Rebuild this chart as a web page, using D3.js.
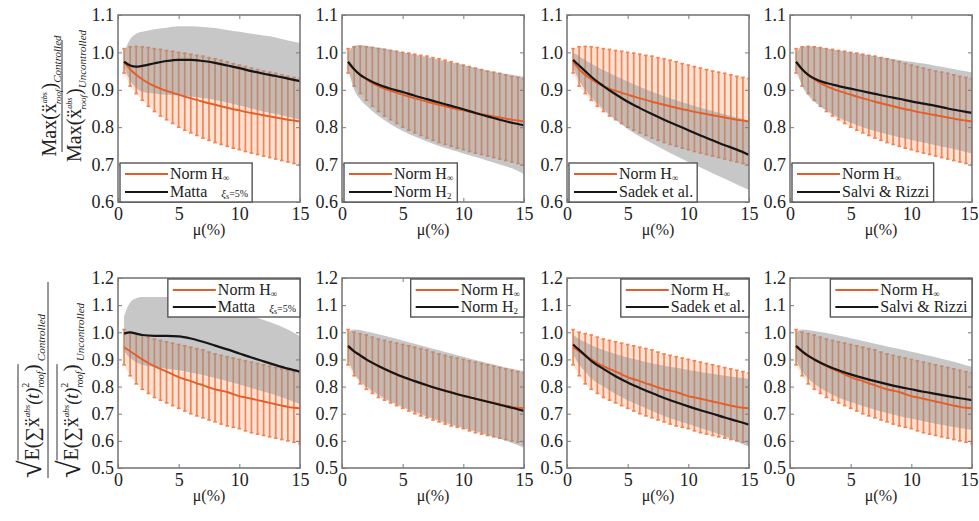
<!DOCTYPE html>
<html>
<head>
<meta charset="utf-8">
<script src="https://cdn.jsdelivr.net/npm/d3@7"></script>
<style>
  body { margin: 0; background: #fff; }
  svg text { font-family: "Liberation Serif", "Times New Roman", "DejaVu Serif", serif; fill: #222; }
</style>
</head>
<body>
<svg id="chart" width="979" height="521"></svg>
<script>
// x positions (mu, %) of the error bars and of the curves
const muBar = [0.5,1,1.5,2,2.5,3,3.5,4,4.5,5,5.5,6,6.5,7,7.5,8,8.5,9,9.5,10,10.5,11,11.5,12,12.5,13,13.5,14,14.5,15];
const muCurve = [0.5,1,1.5,2,3,4,5,6,7,8,9,10,11,12,13,14,15];
const xTicks = [0, 5, 10, 15];
const yTicksTop = [0.6, 0.7, 0.8, 0.9, 1.0, 1.1];
const yTicksBottom = [0.5, 0.6, 0.7, 0.8, 0.9, 1.0, 1.1, 1.2];
const legendNames = ["Matta", "Norm H2", "Sadek et al.", "Salvi & Rizzi"];

// Norm H-inf (same in every panel of a row): mean, bar top, bar bottom
const hinfMeanTop = [0.975,0.955,0.94,0.928,0.918,0.91,0.903,0.897,0.892,0.887,0.882,0.877,0.873,0.868,0.864,0.86,0.856,0.852,0.848,0.845,0.841,0.838,0.835,0.832,0.829,0.826,0.823,0.82,0.818,0.815];
const hinfHighTop = [1.01,1.015,1.016,1.015,1.013,1.01,1.008,1.005,1.003,1.0,0.998,0.995,0.992,0.99,0.986,0.983,0.979,0.975,0.97,0.966,0.962,0.958,0.954,0.95,0.947,0.944,0.94,0.936,0.933,0.93];
const hinfLowTop = [0.945,0.91,0.89,0.872,0.856,0.842,0.83,0.82,0.81,0.8,0.792,0.785,0.778,0.771,0.765,0.759,0.754,0.749,0.744,0.74,0.735,0.731,0.727,0.723,0.719,0.715,0.711,0.707,0.703,0.7];
const hinfMeanBottom = [0.945,0.93,0.915,0.9,0.887,0.875,0.865,0.855,0.845,0.835,0.827,0.82,0.812,0.805,0.797,0.79,0.785,0.78,0.772,0.765,0.76,0.755,0.75,0.745,0.74,0.735,0.73,0.725,0.722,0.72];
const hinfHighBottom = [1.01,1.0,0.995,0.99,0.982,0.975,0.97,0.965,0.96,0.955,0.95,0.945,0.94,0.935,0.927,0.92,0.915,0.91,0.905,0.9,0.895,0.89,0.885,0.88,0.875,0.87,0.865,0.86,0.855,0.85];
const hinfLowBottom = [0.88,0.84,0.81,0.79,0.775,0.76,0.75,0.74,0.73,0.72,0.71,0.7,0.692,0.685,0.677,0.67,0.662,0.655,0.65,0.645,0.637,0.63,0.625,0.62,0.615,0.61,0.605,0.6,0.595,0.59];

// top row (peak ratio): other controller mean + grey band
const mattaTop = [0.975,0.965,0.962,0.964,0.971,0.977,0.98,0.98,0.977,0.972,0.965,0.958,0.95,0.943,0.937,0.93,0.923];
const mattaHighTop = [1.0,1.035,1.05,1.055,1.062,1.066,1.07,1.07,1.068,1.065,1.06,1.055,1.05,1.045,1.04,1.032,1.025];
const mattaLowTop = [0.96,0.925,0.905,0.895,0.89,0.887,0.885,0.882,0.878,0.873,0.866,0.858,0.85,0.842,0.835,0.828,0.82];
const h2Top = [0.975,0.955,0.94,0.93,0.914,0.903,0.894,0.884,0.875,0.866,0.857,0.848,0.838,0.829,0.82,0.812,0.805];
const h2HighTop = [1.0,1.018,1.02,1.018,1.013,1.007,1.0,0.994,0.987,0.98,0.973,0.966,0.958,0.951,0.945,0.94,0.935];
const h2LowTop = [0.96,0.9,0.875,0.858,0.83,0.808,0.79,0.775,0.762,0.75,0.74,0.73,0.72,0.71,0.7,0.69,0.675];
const sadekTop = [0.98,0.965,0.95,0.935,0.91,0.888,0.868,0.851,0.835,0.82,0.806,0.792,0.778,0.765,0.752,0.74,0.726];
const sadekHighTop = [1.0,0.99,0.98,0.97,0.952,0.937,0.922,0.908,0.895,0.883,0.872,0.862,0.852,0.843,0.834,0.826,0.818];
const sadekLowTop = [0.96,0.925,0.9,0.88,0.848,0.82,0.795,0.775,0.757,0.74,0.723,0.707,0.692,0.677,0.662,0.647,0.632];
const salviTop = [0.975,0.955,0.94,0.93,0.918,0.91,0.903,0.896,0.889,0.882,0.876,0.869,0.863,0.857,0.85,0.844,0.838];
const salviHighTop = [1.0,1.015,1.016,1.015,1.01,1.005,1.0,0.995,0.99,0.985,0.98,0.975,0.97,0.964,0.958,0.952,0.946];
const salviLowTop = [0.96,0.91,0.885,0.868,0.845,0.826,0.812,0.8,0.79,0.781,0.773,0.766,0.759,0.752,0.745,0.738,0.73];

// bottom row (RMS ratio)
const mattaBottom = [0.995,1.0,0.995,0.99,0.987,0.987,0.985,0.977,0.965,0.951,0.937,0.922,0.907,0.893,0.879,0.866,0.855];
const mattaHighBottom = [1.06,1.11,1.125,1.13,1.13,1.13,1.125,1.12,1.11,1.1,1.09,1.075,1.06,1.045,1.03,1.01,0.985];
const mattaLowBottom = [0.93,0.905,0.89,0.88,0.872,0.866,0.86,0.852,0.843,0.832,0.82,0.808,0.795,0.782,0.768,0.752,0.735];
const h2Bottom = [0.95,0.93,0.915,0.9,0.876,0.855,0.836,0.82,0.805,0.791,0.778,0.766,0.755,0.744,0.733,0.722,0.71];
const h2HighBottom = [1.0,1.01,1.008,1.003,0.993,0.982,0.97,0.958,0.946,0.934,0.922,0.91,0.898,0.887,0.876,0.866,0.856];
const h2LowBottom = [0.9,0.85,0.82,0.8,0.77,0.745,0.725,0.707,0.69,0.675,0.66,0.647,0.635,0.622,0.608,0.592,0.575];
const sadekBottom = [0.955,0.935,0.915,0.895,0.865,0.838,0.815,0.795,0.776,0.758,0.742,0.727,0.713,0.7,0.686,0.673,0.66];
const sadekHighBottom = [0.99,0.975,0.963,0.952,0.935,0.92,0.907,0.896,0.886,0.877,0.869,0.861,0.854,0.847,0.84,0.834,0.828];
const sadekLowBottom = [0.92,0.88,0.855,0.83,0.8,0.773,0.75,0.73,0.71,0.692,0.676,0.662,0.647,0.633,0.617,0.598,0.578];
const salviBottom = [0.95,0.93,0.913,0.9,0.878,0.86,0.845,0.832,0.82,0.809,0.799,0.79,0.781,0.773,0.765,0.757,0.75];
const salviHighBottom = [1.0,1.01,1.008,1.005,0.997,0.988,0.978,0.968,0.958,0.948,0.938,0.928,0.918,0.908,0.897,0.885,0.873];
const salviLowBottom = [0.9,0.855,0.83,0.81,0.782,0.76,0.743,0.728,0.715,0.703,0.692,0.682,0.672,0.663,0.655,0.647,0.64];

const ORANGE = "#e35f2a", BAR = "#f08556", PEACH = "#fde2d3", GREY = "#8f8f8f", FRAME = "#7a7a7a";
const SERIF = "'Liberation Serif', 'Times New Roman', 'DejaVu Serif', serif";

const rows = [
  { top: 15, h: 187, domain: [0.6, 1.1], ticks: yTicksTop, legendAt: "bottom-left",
    mean: hinfMeanTop, hi: hinfHighTop, lo: hinfLowTop,
    others: [[mattaTop, mattaHighTop, mattaLowTop], [h2Top, h2HighTop, h2LowTop],
             [sadekTop, sadekHighTop, sadekLowTop], [salviTop, salviHighTop, salviLowTop]] },
  { top: 278, h: 190, domain: [0.5, 1.2], ticks: yTicksBottom, legendAt: "top-right",
    mean: hinfMeanBottom, hi: hinfHighBottom, lo: hinfLowBottom,
    others: [[mattaBottom, mattaHighBottom, mattaLowBottom], [h2Bottom, h2HighBottom, h2LowBottom],
             [sadekBottom, sadekHighBottom, sadekLowBottom], [salviBottom, salviHighBottom, salviLowBottom]] }
];
const colLeft = [118, 342, 567, 790];
const panelW = 182;

const svg = d3.select("#chart").style("font-family", SERIF);
const defs = svg.append("defs");

rows.forEach((row, ri) => {
  row.others.forEach((other, ci) => {
    const x0 = colLeft[ci], y0 = row.top;
    const x = d3.scaleLinear().domain([0, 15]).range([x0, x0 + panelW]);
    const y = d3.scaleLinear().domain(row.domain).range([y0 + row.h, y0]);
    const clipId = "clip" + ri + ci;
    defs.append("clipPath").attr("id", clipId).append("rect")
      .attr("x", x0).attr("y", y0).attr("width", panelW).attr("height", row.h);

    const g = svg.append("g");
    const plot = g.append("g").attr("clip-path", "url(#" + clipId + ")");

    const bars = muBar.map((m, i) => ({ m: m, mean: row.mean[i], hi: row.hi[i], lo: row.lo[i] }));
    const curve = muCurve.map((m, i) => ({ m: m, v: other[0][i], hi: other[1][i], lo: other[2][i] }));

    // pale fill between the error bars
    plot.append("path").datum(bars)
      .attr("fill", PEACH)
      .attr("d", d3.area().x(d => x(d.m)).y0(d => y(d.lo)).y1(d => y(d.hi)));

    // error bars
    const eb = plot.append("g").attr("stroke", BAR).attr("stroke-width", 1.7);
    eb.selectAll(".v").data(bars).join("line")
      .attr("x1", d => x(d.m)).attr("x2", d => x(d.m))
      .attr("y1", d => y(d.lo)).attr("y2", d => y(d.hi));
    eb.selectAll(".ct").data(bars).join("line")
      .attr("x1", d => x(d.m) - 1.8).attr("x2", d => x(d.m) + 1.8)
      .attr("y1", d => y(d.hi)).attr("y2", d => y(d.hi));
    eb.selectAll(".cb").data(bars).join("line")
      .attr("x1", d => x(d.m) - 1.8).attr("x2", d => x(d.m) + 1.8)
      .attr("y1", d => y(d.lo)).attr("y2", d => y(d.lo));

    // grey band of the other controller
    plot.append("path").datum(curve)
      .attr("fill", GREY).attr("fill-opacity", 0.5)
      .attr("d", d3.area().curve(d3.curveMonotoneX).x(d => x(d.m)).y0(d => y(d.lo)).y1(d => y(d.hi)));

    // Norm H-inf mean
    plot.append("path").datum(bars)
      .attr("fill", "none").attr("stroke", ORANGE).attr("stroke-width", 1.9)
      .attr("d", d3.line().curve(d3.curveMonotoneX).x(d => x(d.m)).y(d => y(d.mean)));

    // other controller mean
    plot.append("path").datum(curve)
      .attr("fill", "none").attr("stroke", "#161616").attr("stroke-width", 2.2)
      .attr("d", d3.line().curve(d3.curveMonotoneX).x(d => x(d.m)).y(d => y(d.v)));

    // axes (ticks inward on all four sides)
    const axisStyle = sel => {
      sel.attr("font-family", null);
      sel.select(".domain").remove();
      sel.selectAll(".tick line").attr("stroke", FRAME);
      sel.selectAll(".tick text").style("font-family", SERIF).attr("font-size", 18).attr("fill", "#222");
    };
    g.append("g").attr("transform", `translate(${x0},0)`)
      .call(d3.axisLeft(y).tickValues(row.ticks).tickFormat(d3.format(".1f")).tickSizeInner(-4).tickSizeOuter(0).tickPadding(4))
      .call(axisStyle);
    g.append("g").attr("transform", `translate(${x0 + panelW},0)`)
      .call(d3.axisRight(y).tickValues(row.ticks).tickSizeInner(-4).tickSizeOuter(0).tickFormat(""))
      .call(axisStyle);
    const xa = g.append("g").attr("transform", `translate(0,${y0 + row.h})`)
      .call(d3.axisBottom(x).tickValues(xTicks).tickSizeInner(-4).tickSizeOuter(0).tickPadding(5))
      .call(axisStyle);
    if (ci === 3) xa.selectAll(".tick text").filter(d => d === 15).attr("dx", -3);
    g.append("g").attr("transform", `translate(0,${y0})`)
      .call(d3.axisTop(x).tickValues(xTicks).tickSizeInner(-4).tickSizeOuter(0).tickFormat(""))
      .call(axisStyle);
    g.append("rect").attr("x", x0).attr("y", y0).attr("width", panelW).attr("height", row.h)
      .attr("fill", "none").attr("stroke", FRAME).attr("stroke-width", 1.6);

    // x label
    g.append("text").attr("x", x0 + panelW / 2).attr("y", y0 + row.h + 33)
      .attr("text-anchor", "middle").attr("font-size", 16).text("μ(%)");

    // legend
    const lg = g.append("g");
    const box = lg.append("rect").attr("fill", "#fff").attr("stroke", "#555").attr("stroke-width", 1.4);
    const items = [{ c: ORANGE, k: "hinf" }, { c: "#161616", k: legendNames[ci] }];
    const bh = row.legendAt === "bottom-left" ? 39 : 38;
    items.forEach((it, k) => {
      const yy = 11 + k * (bh - 21);
      lg.append("line").attr("x1", 5).attr("x2", 48).attr("y1", yy).attr("y2", yy)
        .attr("stroke", it.c).attr("stroke-width", 2.2);
      const t = lg.append("text").attr("x", 50).attr("y", yy + 5).attr("font-size", 16).attr("fill", "#333");
      if (it.k === "hinf" || it.k === "Norm H2") {
        t.append("tspan").text("Norm H");
        t.append("tspan").attr("font-size", 9).attr("dy", 2).text(it.k === "hinf" ? "∞" : "2");
      } else if (it.k === "Matta") {
        t.append("tspan").text("Matta");
        t.append("tspan").attr("font-size", 11).attr("font-style", "italic").attr("dx", 14).text("ξ");
        t.append("tspan").attr("font-size", 8).attr("dy", 2).text("s");
        t.append("tspan").attr("font-size", 10).attr("dy", -2).text("=5%");
      } else {
        t.text(it.k);
      }
    });
    const bb = lg.node().getBBox();
    const bw = bb.x + bb.width + 4;
    box.attr("x", 0).attr("y", 0).attr("width", bw).attr("height", bh);
    if (row.legendAt === "bottom-left") {
      lg.attr("transform", `translate(${x0 + 2},${y0 + row.h - bh})`);
    } else {
      lg.attr("transform", `translate(${x0 + panelW - bw},${y0 + 1})`);
    }
  });
});

// y-axis label, top row: Max(x'' roof abs)Controlled / Max(...)Uncontrolled
function stackedX(t, big) {
  t.append("tspan").attr("font-size", big).text("Max(ẍ");
  t.append("tspan").attr("font-size", 8).attr("font-style", "italic").attr("dy", -9).text("abs");
  t.append("tspan").attr("font-size", 9).attr("font-style", "italic").attr("dx", -12).attr("dy", 14).text("roof");
  t.append("tspan").attr("font-size", big).attr("dy", -5).text(")");
}
const lab1 = svg.append("g").attr("transform", "translate(62,96) rotate(-90)");
const n1 = lab1.append("text").attr("text-anchor", "middle").attr("y", -6);
stackedX(n1, 20);
n1.append("tspan").attr("font-size", 11).attr("font-style", "italic").attr("dy", 5).text("Controlled");
lab1.append("line").attr("x1", -56).attr("x2", 56).attr("y1", 0).attr("y2", 0).attr("stroke", "#333").attr("stroke-width", 1);
const d1 = lab1.append("text").attr("text-anchor", "middle").attr("y", 19);
stackedX(d1, 20);
d1.append("tspan").attr("font-size", 11).attr("font-style", "italic").attr("dy", 5).text("Uncontrolled");

// y-axis label, bottom row: sqrt(E(sum x''^2)) ratio
function rmsPart(g, yBase, word) {
  const t = g.append("text").attr("y", yBase).attr("x", -98);
  t.append("tspan").attr("font-size", 32).attr("dy", 2).text("√");
  t.append("tspan").attr("font-size", 20).attr("dy", -2).text("E(∑ẍ");
  t.append("tspan").attr("font-size", 9).attr("font-style", "italic").attr("dy", -9).text("abs");
  t.append("tspan").attr("font-size", 18).attr("font-style", "italic").attr("dy", 9).text("(t)");
  t.append("tspan").attr("font-size", 10).attr("dy", -10).text("2");
  t.append("tspan").attr("font-size", 10).attr("font-style", "italic").attr("dx", -5).attr("dy", 15).text("roof");
  t.append("tspan").attr("font-size", 22).attr("dy", -5).text(")");
  t.append("tspan").attr("font-size", 11).attr("font-style", "italic").attr("dx", 3).attr("dy", 6).text(word);
  const rad = t.node().getStartPositionOfChar(1);
  const endIdx = t.text().indexOf(")", t.text().indexOf("t)") + 2);
  const endPt = t.node().getEndPositionOfChar(endIdx);
  g.append("line").attr("x1", rad.x).attr("x2", endPt.x).attr("y1", yBase - 21).attr("y2", yBase - 21)
    .attr("stroke", "#333").attr("stroke-width", 1);
}
const lab2 = svg.append("g").attr("transform", "translate(48,380) rotate(-90)");
rmsPart(lab2, -9, "Controlled");
lab2.append("line").attr("x1", -98).attr("x2", 98).attr("y1", 0).attr("y2", 0).attr("stroke", "#333").attr("stroke-width", 1);
rmsPart(lab2, 30, "Uncontrolled");
</script>
</body>
</html>
